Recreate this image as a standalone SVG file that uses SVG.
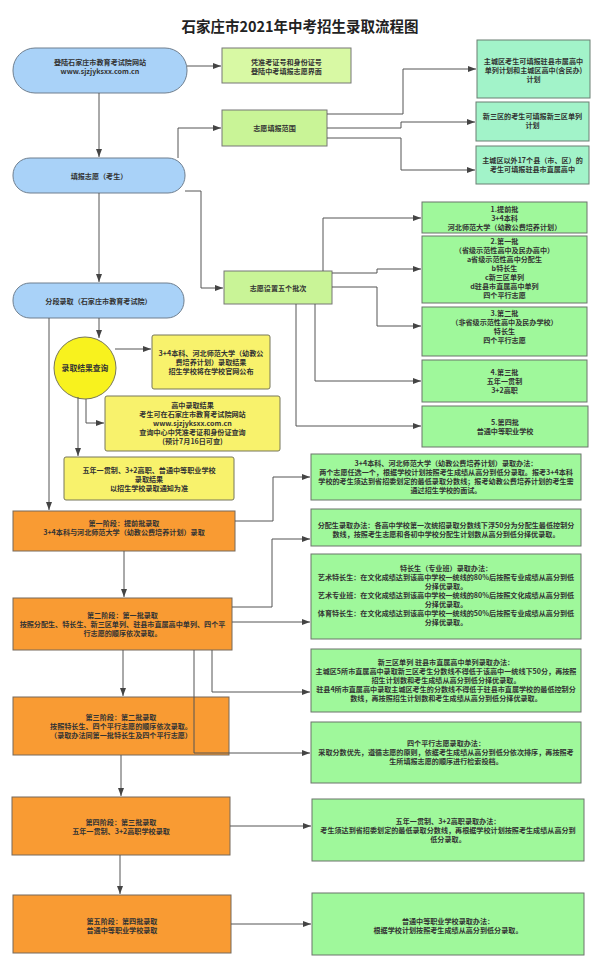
<svg xmlns="http://www.w3.org/2000/svg" width="600" height="967" viewBox="0 0 600 967">
<defs>
<marker id="ah" viewBox="0 0 8 6" refX="8" refY="3" markerWidth="8" markerHeight="6" markerUnits="userSpaceOnUse" orient="auto">
<path d="M0,0 L8,3 L0,6 z" fill="#444"/>
</marker>
<style>
text{font-family:"Noto Sans CJK SC","Noto Sans",sans-serif;font-weight:bold;fill:#333;text-anchor:middle;font-size:7.1px}
.title{font-size:14.5px;fill:#222}
.blue{fill:#a9d2f8;stroke:#6f7f8f;stroke-width:1}
.lime{fill:#d8f9a4;stroke:#777;stroke-width:1}
.lime2{fill:#c9f497;stroke:#777;stroke-width:1}
.mint{fill:#a2f3c9;stroke:#6b7f72;stroke-width:1}
.green{fill:#9ff89b;stroke:#6b756b;stroke-width:1}
.yellow{fill:#f8f26c;stroke:#77765a;stroke-width:1}
.circ{fill:#f8f21e;stroke:#77765a;stroke-width:1}
.orange{fill:#f99b33;stroke:#76695a;stroke-width:1}
.ln{fill:none;stroke:#555;stroke-width:1;marker-end:url(#ah)}
</style>
</defs>
<rect width="600" height="967" fill="#ffffff"/>
<text class="title" x="300" y="32">石家庄市2021年中考招生录取流程图</text>

<g id="n-login">
<rect class="blue" x="13" y="48" width="174" height="45" rx="22"/>
<text x="100" y="64.5">登陆石家庄市教育考试院网站</text>
<text x="100" y="73.5">www.sjzjyksxx.com.cn</text>
</g>
<g id="n-cert">
<rect class="lime" x="222" y="48" width="129" height="35"/>
<text x="286.5" y="64.5">凭准考证号和身份证号</text>
<text x="286.5" y="73.5">登陆中考填报志愿界面</text>
</g>
<g id="n-range1">
<rect class="mint" x="477" y="40" width="113" height="58"/>
<text x="533.5" y="64">主城区考生可填报驻县市属高中</text>
<text x="533.5" y="73">单列计划和主城区高中(含民办)</text>
<text x="533.5" y="82">计划</text>
</g>
<g id="n-range2">
<rect class="mint" x="476" y="102" width="113" height="39"/>
<text x="532.5" y="119">新三区的考生可填报新三区单列</text>
<text x="532.5" y="128">计划</text>
</g>
<g id="n-range3">
<rect class="mint" x="476" y="146" width="113" height="38"/>
<text x="532.5" y="163">主城区以外17个县（市、区）的</text>
<text x="532.5" y="172">考生可填报驻县市直属高中</text>
</g>
<g id="n-fill">
<rect class="blue" x="13" y="158" width="172" height="35" rx="17"/>
<text x="99" y="178.5">填报志愿（考生）</text>
</g>
<g id="n-scope">
<rect class="lime2" x="222" y="110" width="105" height="36"/>
<text x="274.5" y="130.5">志愿填报范围</text>
</g>
<g id="n-five">
<rect class="lime2" x="224" y="271" width="108" height="33"/>
<text x="278" y="290.5">志愿设置五个批次</text>
</g>
<g id="n-stage">
<rect class="blue" x="13" y="283" width="171" height="35" rx="17"/>
<text x="98.5" y="303.5">分段录取（石家庄市教育考试院）</text>
</g>

<g id="b1">
<rect class="green" x="422" y="202" width="165" height="31"/>
<text x="504.5" y="212">1.提前批</text>
<text x="504.5" y="221">3+4本科</text>
<text x="504.5" y="230">河北师范大学（幼教公费培养计划）</text>
</g>
<g id="b2">
<rect class="green" x="422" y="236" width="165" height="67"/>
<text x="504.5" y="244">2.第一批</text>
<text x="504.5" y="253">（省级示范性高中及民办高中）</text>
<text x="504.5" y="262">a省级示范性高中分配生</text>
<text x="504.5" y="271">b特长生</text>
<text x="504.5" y="280">c新三区单列</text>
<text x="504.5" y="289">d驻县市直属高中单列</text>
<text x="504.5" y="298">四个平行志愿</text>
</g>
<g id="b3">
<rect class="green" x="422" y="307" width="165" height="49"/>
<text x="504.5" y="315.5">3.第二批</text>
<text x="504.5" y="324.5">（非省级示范性高中及民办学校）</text>
<text x="504.5" y="333.5">特长生</text>
<text x="504.5" y="342.5">四个平行志愿</text>
</g>
<g id="b4">
<rect class="green" x="422" y="360" width="165" height="42"/>
<text x="504.5" y="375">4.第三批</text>
<text x="504.5" y="384">五年一贯制</text>
<text x="504.5" y="393">3+2高职</text>
</g>
<g id="b5">
<rect class="green" x="422" y="406" width="166" height="41"/>
<text x="505" y="425">5.第四批</text>
<text x="505" y="434">普通中等职业学校</text>
</g>

<g id="q-circle">
<circle class="circ" cx="85" cy="368" r="31"/>
<text x="85" y="371" style="font-size:7.8px">录取结果查询</text>
</g>
<g id="q-a">
<rect class="yellow" x="152" y="335" width="118" height="54" rx="2"/>
<text x="211" y="356">3+4本科、河北师范大学（幼教公</text>
<text x="211" y="365">费培养计划）录取结果</text>
<text x="211" y="374">招生学校将在学校官网公布</text>
</g>
<g id="q-b">
<rect class="yellow" x="105" y="396" width="175" height="55" rx="2"/>
<text x="192.5" y="407.5">高中录取结果</text>
<text x="192.5" y="416.5">考生可在石家庄市教育考试院网站</text>
<text x="192.5" y="425.5">www.sjzjyksxx.com.cn</text>
<text x="192.5" y="434.5">查询中心中凭准考证和身份证查询</text>
<text x="192.5" y="443.5">(预计7月16日可查)</text>
</g>
<g id="q-c">
<rect class="yellow" x="64" y="457" width="170" height="43" rx="2"/>
<text x="149" y="472.5">五年一贯制、3+2高职、普通中等职业学校</text>
<text x="149" y="481.5">录取结果</text>
<text x="149" y="490.5">以招生学校录取通知为准</text>
</g>

<g id="s1">
<rect class="orange" x="13" y="511" width="222" height="40"/>
<text x="124" y="525.5">第一阶段：提前批录取</text>
<text x="124" y="534.5">3+4本科与河北师范大学（幼教公费培养计划）录取</text>
</g>
<g id="s2">
<rect class="orange" x="13" y="598" width="219" height="52"/>
<text x="122.5" y="617.5">第二阶段：第一批录取</text>
<text x="122.5" y="626.5">按照分配生、特长生、新三区单列、驻县市直属高中单列、四个平</text>
<text x="122.5" y="635.5">行志愿的顺序依次录取。</text>
</g>
<g id="s3">
<rect class="orange" x="13" y="697" width="216" height="58"/>
<text x="121" y="720">第三阶段：第二批录取</text>
<text x="121" y="729">按照特长生、四个平行志愿的顺序依次录取。</text>
<text x="121" y="738">（录取办法同第一批特长生及四个平行志愿）</text>
</g>
<g id="s4">
<rect class="orange" x="12" y="797" width="218" height="58"/>
<text x="121" y="824.5">第四阶段：第三批录取</text>
<text x="121" y="833.5">五年一贯制、3+2高职学校录取</text>
</g>
<g id="s5">
<rect class="orange" x="13" y="895" width="218" height="58"/>
<text x="122" y="923.5">第五阶段：第四批录取</text>
<text x="122" y="932.5">普通中等职业学校录取</text>
</g>

<g id="r1">
<rect class="green" x="311" y="454" width="270" height="46"/>
<text x="446" y="466">3+4本科、河北师范大学（幼教公费培养计划）录取办法：</text>
<text x="446" y="475">两个志愿任选一个，根据学校计划按照考生成绩从高分到低分录取。报考3+4本科</text>
<text x="446" y="484">学校的考生须达到省招委划定的最低录取分数线；报考幼教公费培养计划的考生需</text>
<text x="446" y="493">通过招生学校的面试。</text>
</g>
<g id="r2">
<rect class="green" x="311" y="509" width="270" height="37"/>
<text x="446" y="528">分配生录取办法：各高中学校第一次统招录取分数线下浮50分为分配生最低控制分</text>
<text x="446" y="537">数线，按照考生志愿和各初中学校分配生计划数从高分到低分择优录取。</text>
</g>
<g id="r3">
<rect class="green" x="311" y="554" width="270" height="85"/>
<text x="446" y="571">特长生（专业班）录取办法：</text>
<text x="446" y="580">艺术特长生：在文化成绩达到该高中学校一统线的80%后按照专业成绩从高分到低</text>
<text x="446" y="589">分择优录取。</text>
<text x="446" y="598">艺术专业班：在文化成绩达到该高中学校一统线的80%后按照文化成绩从高分到低</text>
<text x="446" y="607">分择优录取。</text>
<text x="446" y="616">体育特长生：在文化成绩达到该高中学校一统线的50%后按照专业成绩从高分到低</text>
<text x="446" y="625">分择优录取。</text>
</g>
<g id="r4">
<rect class="green" x="311" y="649" width="270" height="63"/>
<text x="446" y="664.5">新三区单列 驻县市直属高中单列录取办法：</text>
<text x="446" y="673.5">主城区5所市直属高中录取新三区考生分数线不得低于该高中一统线下50分，再按照</text>
<text x="446" y="682.5">招生计划数和考生成绩从高分到低分择优录取。</text>
<text x="446" y="691.5">驻县4所市直属高中录取主城区考生的分数线不得低于驻县市直属学校的最低控制分</text>
<text x="446" y="700.5">数线，再按照招生计划数和考生成绩从高分到低分择优录取。</text>
</g>
<g id="r5">
<rect class="green" x="311" y="722" width="270" height="61"/>
<text x="446" y="745.5">四个平行志愿录取办法：</text>
<text x="446" y="754.5">采取分数优先，遵循志愿的原则，依据考生成绩从高分到低分依次排序，再按照考</text>
<text x="446" y="763.5">生所填报志愿的顺序进行检索投档。</text>
</g>
<g id="r6">
<rect class="green" x="312" y="799" width="272" height="62"/>
<text x="448" y="824">五年一贯制、3+2高职录取办法：</text>
<text x="448" y="833">考生须达到省招委划定的最低录取分数线，再根据学校计划按照考生成绩从高分到</text>
<text x="448" y="842">低分录取。</text>
</g>
<g id="r7">
<rect class="green" x="312" y="893" width="272" height="62"/>
<text x="448" y="923.5">普通中等职业学校录取办法：</text>
<text x="448" y="932.5">根据学校计划按照考生成绩从高分到低分录取。</text>
</g>

<g id="connectors">
<path class="ln" d="M187,66 H221"/>
<path class="ln" d="M99,93 V157"/>
<path class="ln" d="M178,158 V128 H221"/>
<path class="ln" d="M327,114 H403 V69 H476"/>
<path class="ln" d="M327,128 H401 V122 H475"/>
<path class="ln" d="M327,138 H401 V170 H475"/>
<path class="ln" d="M185,191 H201 V288 H223"/>
<path class="ln" d="M99,193 V282"/>
<path class="ln" d="M323,271 V218 H421"/>
<path class="ln" d="M332,273 H377 V269 H421"/>
<path class="ln" d="M332,287 H377 V326 H421"/>
<path class="ln" d="M315,304 V381 H421"/>
<path class="ln" d="M296,304 V426 H421"/>
<path class="ln" d="M99,318 V338"/>
<path class="ln" d="M49,318 V510"/>
<path class="ln" d="M115,349 H151"/>
<path class="ln" d="M86,399 V423 H104"/>
<path class="ln" d="M78,397 V456"/>
<path class="ln" d="M235,521 H273 V477 H310"/>
<path class="ln" d="M124,551 V597"/>
<path class="ln" d="M232,607 H272 V539 H310"/>
<path class="ln" d="M232,622 H310"/>
<path class="ln" d="M212,650 V692 H310"/>
<path class="ln" d="M194,650 V753 H310"/>
<path class="ln" d="M123,650 V696"/>
<path class="ln" d="M121,755 V796"/>
<path class="ln" d="M230,826 H311"/>
<path class="ln" d="M120,855 V894"/>
<path class="ln" d="M231,924 H311"/>
</g>
</svg>
